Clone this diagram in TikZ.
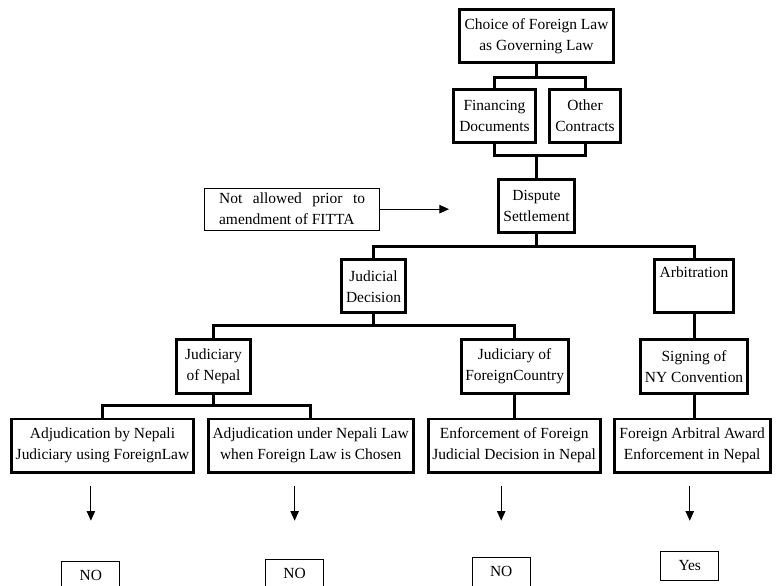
\documentclass[tikz,border=0pt]{standalone}
\usepackage{fontspec}
\setmainfont{Liberation Serif}
\usepackage{tikz}
\usetikzlibrary{arrows.meta,positioning}
\tikzset{
  lbox/.style={draw=black, line width=2.1pt, align=center, font=\fontsize{11}{15}\selectfont, inner sep=2pt, minimum height=13.3mm},
  sbox/.style={draw=black, line width=0.7pt, align=center, font=\fontsize{11}{15}\selectfont, inner sep=2pt, minimum width=14.5mm, minimum height=7.25mm},
  lline/.style={line width=2.1pt},
  larr/.style={-{Triangle[length=2.4mm,width=2.1mm]}, line width=0.8pt}
}

\begin{document}
\begin{tikzpicture}
\useasboundingbox (-134.125mm,-137.25mm) rectangle (60.625mm,9mm);
\node[lbox, minimum width=38.5mm] (t1) at (0,0) {Choice of Foreign Law\\as Governing Law};
\node[lbox, minimum width=20.5mm, below=6mm of t1, xshift=-10.5mm] (t2) {Financing\\Documents};
\node[lbox, minimum width=17.8mm, right=2.75mm of t2] (t3) {Other\\Contracts};
\node[lbox, minimum width=19mm, below=28.5mm of t1] (t4) {Dispute\\Settlement};
\node[draw=black, line width=0.7pt, font=\fontsize{11}{15}\selectfont, align=justify, text width=36.5mm, inner xsep=3.6mm, inner ysep=3.5pt, left=29.25mm of t4, yshift=-0.75mm] (c1) {Not allowed prior to\linebreak amendment of FITTA};
\coordinate (c2) at ([xshift=-12mm]t4.west);
\node[lbox, minimum width=16mm, below=6mm of t4, xshift=-40.75mm] (t5) {Judicial\\Decision};
\node[lbox, minimum width=19.8mm, right=61.5mm of t5] (t6) {Arbitration\\\strut};
\node[lbox, minimum width=18.3mm, below=6mm of t5, xshift=-40mm] (t7) {Judiciary\\of Nepal};
\node[lbox, minimum width=26.8mm, right=52mm of t7] (t8) {Judiciary of\\ForeignCountry};
\node[lbox, minimum width=26.8mm, below=6mm of t6] (t9) {Signing of\\NY Convention};
\node[lbox, minimum width=45.3mm, below=5.75mm of t7, xshift=-27.75mm] (t10) {Adjudication by Nepali\\Judiciary using ForeignLaw};
\node[lbox, minimum width=51.3mm, right=3mm of t10] (t11) {Adjudication under Nepali Law\\when Foreign Law is Chosen};
\node[lbox, minimum width=43mm, right=3mm of t11] (t12) {Enforcement of Foreign\\Judicial Decision in Nepal};
\node[lbox, minimum width=39mm, right=2.75mm of t12] (t13) {Foreign Arbitral Award\\Enforcement in Nepal};
\node[sbox, below=21.75mm of t10, xshift=-2.9mm] (r1) {NO};
\node[sbox, below=21.25mm of t11, xshift=-4mm] (r2) {NO};
\node[sbox, below=20.75mm of t12, xshift=-3.25mm] (r3) {NO};
\node[sbox, below=19.25mm of t13, xshift=-0.6mm] (r4) {Yes};
% tree links
\draw[lline] (t1.south) -- ++(0,-3.25mm) -| (t2.north);
\draw[lline] (t1.south) -- ++(0,-3.25mm) -| (t3.north);
\draw[lline] (t2.south) -- ++(0,-2.75mm) -| (t4.north);
\draw[lline] (t3.south) -- ++(0,-2.75mm) -| (t4.north);
\draw[lline] (t4.south) -- ++(0,-3mm) -| (t5.north);
\draw[lline] (t4.south) -- ++(0,-3mm) -| (t6.north);
\draw[lline] (t5.south) -- ++(0,-2.75mm) -| (t7.north);
\draw[lline] (t5.south) -- ++(0,-2.75mm) -| (t8.north);
\draw[lline] (t7.south) -- ++(0,-2.75mm) -| (t10.north);
\draw[lline] (t7.south) -- ++(0,-2.75mm) -| (t11.north);
\draw[lline] (t8.south) -- (t8.south |- t12.north);
\draw[lline] (t6.south) -- (t6.south |- t9.north);
\draw[lline] (t9.south) -- (t9.south |- t13.north);
% arrows
\draw[larr] (c1.east) -- (c1.east -| c2);
\foreach \r/\t in {r1/t10, r2/t11, r3/t12, r4/t13}
  \draw[larr, shorten <=3mm] (\r.north |- \t.south) -- ++(0,-11.75mm);
\end{tikzpicture}
\end{document}
